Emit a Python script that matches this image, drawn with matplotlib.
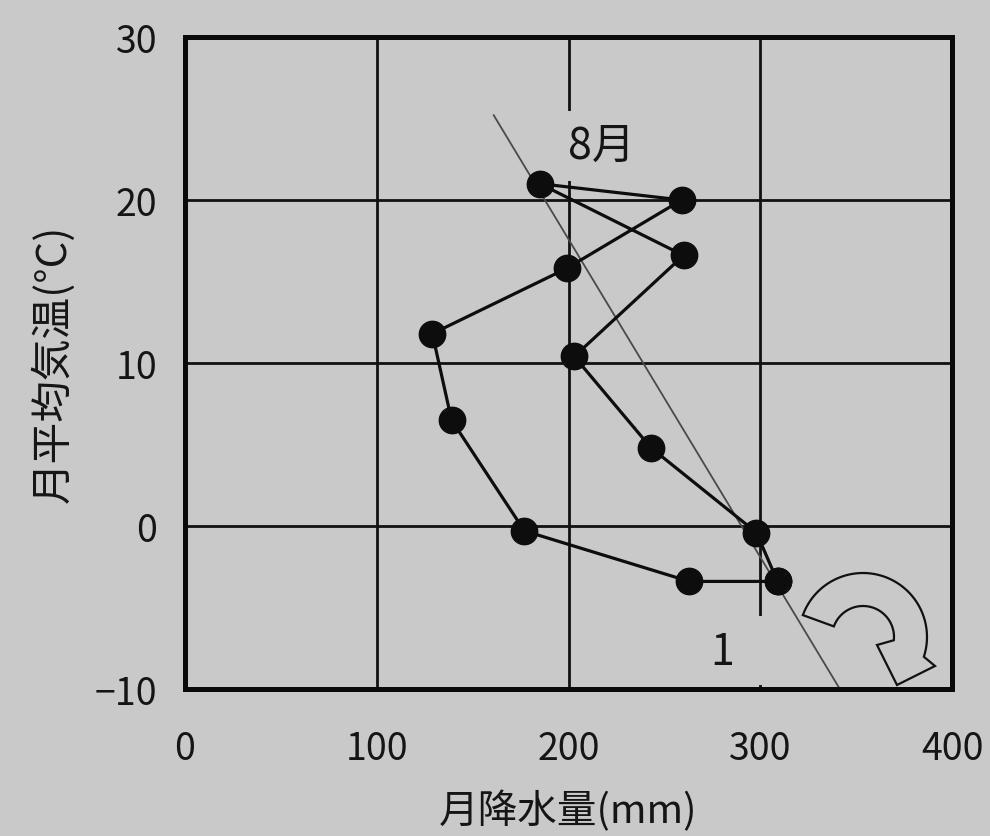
import numpy as np
import matplotlib
matplotlib.use("Agg")
import matplotlib.pyplot as plt
from matplotlib.patches import Polygon, Rectangle
from matplotlib.transforms import IdentityTransform

plt.rcParams['font.family'] = ['Noto Sans CJK JP', 'DejaVu Sans']

# ---- data ----
months = [1, 2, 3, 4, 5, 6, 7, 8, 9, 10, 11, 12]
precip = [309, 263, 177, 139, 129, 199, 259, 185, 260, 203, 243, 298]   # mm
temp = [-3.4, -3.4, -0.3, 6.5, 11.8, 15.8, 20.0, 21.0, 16.6, 10.4, 4.8, -0.4]  # degC
trend_x = [161, 341.5]
trend_y = [25.2, -10.0]

x_ticks = [0, 100, 200, 300, 400]
y_ticks = [-10, 0, 10, 20, 30]
x_label = "月降水量(mm)"
y_label = "月平均気温(°C)"

BG = '#c9c9c9'

fig = plt.figure(figsize=(9.9, 8.37), dpi=100, facecolor=BG)
ax = fig.add_axes([185 / 990, 1 - 690 / 837, (952 - 185) / 990, (690 - 38) / 837])
ax.set_facecolor(BG)
ax.set_xlim(0, 400)
ax.set_ylim(-10, 30)
ax.set_xticks(x_ticks)
ax.set_yticks(y_ticks)
ax.tick_params(length=0, labelsize=27, colors='#151515')
ax.tick_params(axis='x', pad=29)
ax.tick_params(axis='y', pad=20)
for s in ax.spines.values():
    s.set_linewidth(3.6)
    s.set_color('#0a0a0a')
ax.set_axisbelow(True)
ax.grid(True, color='#111111', linewidth=2.0)

ax.set_xlabel(x_label, fontsize=28.5, labelpad=16, color='#151515')
ax.set_ylabel(y_label, fontsize=30, labelpad=14, color='#151515')

# trend line
ax.plot(trend_x, trend_y, color='#4a4a4a', linewidth=1.3, zorder=2.5, clip_on=False)

# annual cycle
px = precip + precip[:1]
ty = temp + temp[:1]
ax.plot(px, ty, '-o', color='#0d0d0d', linewidth=2.3, markersize=19, zorder=3)

# labels
ax.text(217, 23.3, "8月", fontsize=31, ha='center', va='center', color='#151515',
        zorder=1.5, bbox=dict(boxstyle='square,pad=0.3', fc=BG, ec='none'))
ax.add_patch(Rectangle((288, -9.75), 17, 4.2, facecolor=BG, edgecolor='none', zorder=1.5))
ax.text(280, -7.75, "1", fontsize=31, ha='center', va='center', color='#151515', zorder=2)

# curved arrow (pixel geometry)
cx, cy = 863, 837 - 638
R, r = 64, 31
a_out = np.radians(np.linspace(160, -18, 50))
a_in = np.radians(np.linspace(-6, 160, 50))
pts = [(cx + R * np.cos(a), cy + R * np.sin(a)) for a in a_out]
pts += [(935, 837 - 667), (897, 837 - 686), (877, 837 - 646)]
pts += [(cx + r * np.cos(a), cy + r * np.sin(a)) for a in a_in]
arrow = Polygon(pts, closed=True, facecolor=BG, edgecolor='#111111', linewidth=1.6,
                transform=IdentityTransform(), zorder=4)
fig.patches.append(arrow)

fig.savefig("out.png", dpi=100, facecolor=BG)
